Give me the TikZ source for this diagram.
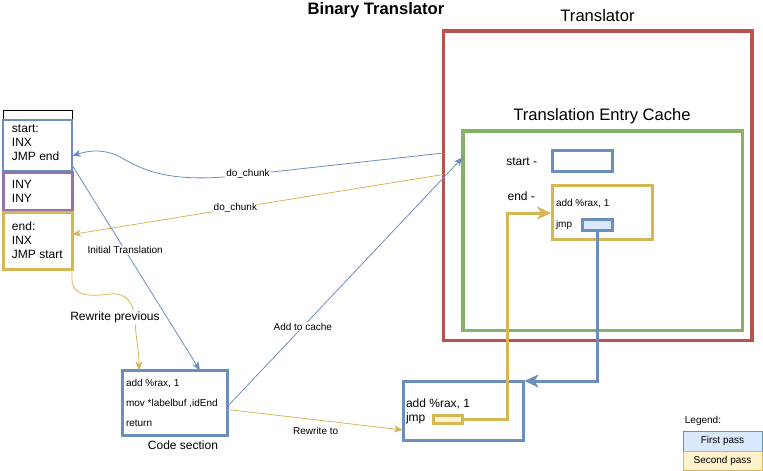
\documentclass[tikz,border=0pt]{standalone}
\usepackage{fontspec}
\setmainfont{Liberation Sans}
\usetikzlibrary{arrows.meta,fit}
\definecolor{cblue}{HTML}{6C8EBF}
\definecolor{cyellow}{HTML}{D6B656}
\definecolor{cred}{HTML}{B85450}
\definecolor{cgreen}{HTML}{82B366}
\definecolor{cpurple}{HTML}{9673A6}
\definecolor{lblue}{HTML}{DAE8FC}
\definecolor{lyellow}{HTML}{FFF2CC}
\begin{document}
\begin{tikzpicture}[x=1pt,y=-1pt,
  box/.style={draw, inner sep=0pt, outer sep=0pt},
  thk/.style={line width=3pt},
  blk/.style={anchor=north west, align=left, inner sep=0pt, outer sep=0pt, font=\fontsize{12}{14}\selectfont},
  txt/.style={anchor=west, inner sep=0pt, outer sep=0pt},
  big/.style={font=\fontsize{16.6}{19}\selectfont, inner sep=0pt},
  lbl/.style={fill=white, text=black, inner sep=1pt, font=\fontsize{10}{12}\selectfont},
  sm/.style={font=\fontsize{10}{12}\selectfont},
  md/.style={font=\fontsize{12}{14}\selectfont},
  thinarrow/.style={line width=0.8pt, -{Stealth[length=9pt,width=7pt,inset=2.5pt]}},
  bigarrow/.style={line width=3pt, -{Stealth[length=14pt,width=13pt,inset=4pt]}}
]
\useasboundingbox (0,0) rectangle (763,471);

% titles
\node[big, font=\bfseries\fontsize{16.6}{19}\selectfont] (title) at (376,10) {Binary Translator};
\node[big] (ttrans) at (597.5,16) {Translator};
\node[big] (tcache) at (602,116.5) {Translation Entry Cache};

% left stack
\node[box, draw=black, line width=0.8pt, fit={(3,110)(72,120)}] (hdr) {};
\node[box, draw=cblue, line width=2pt, fit={(3,120)(72,171)}] (sbox) {};
\node[box, draw=cpurple, thk, fit={(3,172)(72,210)}] (ybox) {};
\node[box, draw=cyellow, thk, fit={(3,212)(72,269.5)}] (ebox) {};
\node[blk] (stext) at (12,122.2) {\strut start:\\INX\\JMP end};
\node[blk] (ytext) at (12,178.2) {\strut INY\\INY};
\node[blk] (etext) at (12,220.2) {\strut end:\\INX\\JMP start};

% translator
\node[box, draw=cred, line width=3.5pt, fit={(443.3,31)(752,340.5)}] (red) {};
\node[box, draw=cgreen, line width=3.5pt, fit={(462.8,130.8)(742.5,330.3)}] (green) {};
\node[box, draw=cblue, thk, fit={(552.5,150.5)(612.5,171)}] (cstart) {};
\node[box, draw=cyellow, thk, fit={(552.5,185.5)(652.5,239.5)}] (cend) {};
\node[box, draw=cblue, thk, fill=lblue, fit={(582.5,219)(612.5,230)}] (cjmp) {};
\node[txt, md, anchor=east] (lstart) at (537,162) {start -};
\node[txt, md, anchor=east] (lend) at (535,196.5) {end -};
\node[txt, sm] (cadd) at (556,204) {add \%rax, 1};
\node[txt, sm] (cjmptxt) at (556,224.5) {jmp};

% code section
\node[box, draw=cblue, thk, fit={(122,370.5)(227.5,435.5)}] (code) {};
\node[txt, sm] (c1) at (126,384) {add \%rax, 1};
\node[txt, sm] (c2) at (126,404) {mov *labelbuf ,idEnd};
\node[txt, sm] (c3) at (126,423.5) {return};
\node[md, inner sep=0pt] (codelbl) at (183,445.5) {Code section};

% new block
\node[box, draw=cblue, thk, fit={(403,381)(523,440)}] (newb) {};
\node[txt, md] (n1) at (406,404) {add \%rax, 1};
\node[txt, md] (n2) at (406,418) {jmp};
\node[box, draw=cyellow, thk, fill=lyellow, fit={(433,415.5)(462,423.5)}] (njmp) {};

% legend
\node[sm, inner sep=0pt] (leglbl) at (703,421) {Legend:};
\node[box, draw=cblue, fill=lblue, line width=0.8pt, fit={(683,431)(762,451)}] (leg1) {};
\node[sm, inner sep=0pt] (leg1t) at (leg1.center) {First pass};
\node[box, draw=cyellow, fill=lyellow, line width=0.8pt, fit={(683,451)(762,470.5)}] (leg2) {};
\node[sm, inner sep=0pt] (leg2t) at (leg2.center) {Second pass};

% connectors
\draw[cblue, thinarrow] ([yshift=-122pt]red.north west) -- (240,175.5)
   .. controls (165,184) and (140,168) .. (120,157)
   .. controls (105,149) and (90,150) .. ([yshift=-36pt]sbox.north east);
\node[lbl] (dc1) at (248,173.5) {do\_chunk};

\draw[cyellow, thinarrow] ([yshift=-143.5pt]red.north west) -- node[lbl, pos=0.56] (dc2) {do\_chunk} ([yshift=-22.5pt]ebox.north east);

\draw[cblue, thinarrow] ([yshift=-45pt]sbox.north east) -- node[lbl, pos=0.415] (it) {Initial Translation} ([xshift=78pt]code.north west);

\draw[cyellow, thinarrow] (ebox.south east) -- ++(0,10)
   .. controls (72,298) and (95,296) .. (110,294)
   .. controls (128,292) and (134,305) .. (135,320)
   .. controls (136,340) and (139,350) .. ([xshift=17pt]code.north west);
\node[lbl, font=\fontsize{12}{14}\selectfont] (rp) at (115,317) {Rewrite previous};

\draw[cblue, thinarrow] ([yshift=-36pt]code.north east) -- node[lbl, pos=0.32] (atc) {Add to cache} ([yshift=-26.5pt]green.north west);

\draw[cyellow, thinarrow] ([yshift=-39pt]code.north east) -- ([yshift=-49pt]newb.north west);
\node[sm, inner sep=0pt] (rt) at (315.7,431) {Rewrite to};

\draw[cblue, bigarrow] (cjmp.south) |- ([xshift=1.5pt]newb.north east);
\draw[cyellow, bigarrow] (njmp.east) -- ++(45,0) |- ([yshift=-27.5pt, xshift=-1.5pt]cend.north west);
\end{tikzpicture}
\end{document}
